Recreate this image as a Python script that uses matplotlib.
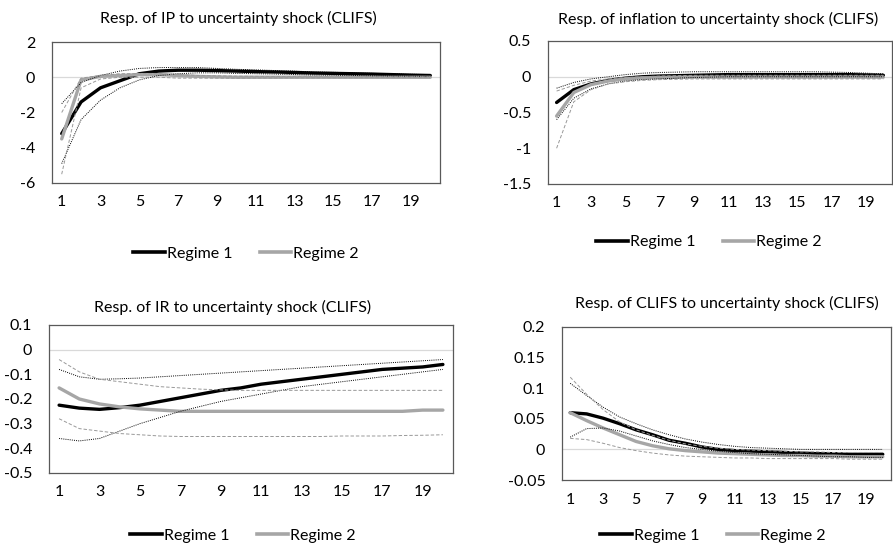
import matplotlib
matplotlib.use("Agg")
import matplotlib.pyplot as plt
from matplotlib.ticker import FuncFormatter
from matplotlib.lines import Line2D

plt.rcParams['font.family'] = ['Lato', 'DejaVu Sans']

# horizons
steps = list(range(1, 21))
xtick_labels = [str(i) for i in range(1, 20, 2)]
titles = ["Resp. of IP to uncertainty shock (CLIFS)",
          "Resp. of inflation to uncertainty shock (CLIFS)",
          "Resp. of IR to uncertainty shock (CLIFS)",
          "Resp. of CLIFS to uncertainty shock (CLIFS)"]
legend_labels = ["Regime 1", "Regime 2"]

# IP response
ip_r1 = [-3.2, -1.4, -0.6, -0.2, 0.2, 0.35, 0.4, 0.4, 0.38, 0.35, 0.32, 0.3, 0.27, 0.24, 0.22, 0.2, 0.18, 0.15, 0.12, 0.1]
ip_r2 = [-3.5, -0.15, 0.05, 0.1, 0.15, 0.15, 0.1, 0.05, 0.02, 0.0, 0.0, 0.0, 0.0, 0.0, 0.0, 0.0, 0.0, 0.0, 0.0, 0.0]
ip_r1_up = [-1.5, -0.3, 0.1, 0.35, 0.5, 0.55, 0.55, 0.55, 0.5, 0.45, 0.42, 0.38, 0.35, 0.3, 0.28, 0.25, 0.22, 0.2, 0.17, 0.15]
ip_r1_lo = [-4.9, -2.4, -1.3, -0.6, -0.15, 0.1, 0.2, 0.25, 0.25, 0.22, 0.2, 0.18, 0.15, 0.13, 0.12, 0.1, 0.08, 0.07, 0.06, 0.05]
ip_r2_up = [-2.0, -0.05, 0.1, 0.2, 0.2, 0.2, 0.15, 0.1, 0.08, 0.06, 0.05, 0.04, 0.03, 0.03, 0.02, 0.02, 0.02, 0.02, 0.02, 0.02]
ip_r2_lo = [-5.5, -0.6, -0.1, 0.0, 0.0, 0.0, -0.05, -0.05, -0.05, -0.05, -0.04, -0.04, -0.03, -0.03, -0.03, -0.03, -0.02, -0.02, -0.02, -0.02]

# inflation response
inf_r1 = [-0.36, -0.18, -0.1, -0.05, -0.02, 0.0, 0.01, 0.015, 0.02, 0.025, 0.03, 0.03, 0.03, 0.03, 0.03, 0.03, 0.03, 0.03, 0.025, 0.02]
inf_r2 = [-0.55, -0.22, -0.11, -0.06, -0.03, -0.015, -0.01, -0.008, -0.005, -0.005, -0.005, -0.005, -0.005, -0.005, -0.005, -0.005, -0.005, -0.005, -0.005, -0.005]
inf_r1_up = [-0.16, -0.08, -0.03, 0.0, 0.03, 0.05, 0.06, 0.065, 0.07, 0.07, 0.07, 0.07, 0.07, 0.07, 0.07, 0.07, 0.065, 0.06, 0.05, 0.04]
inf_r1_lo = [-0.6, -0.3, -0.17, -0.1, -0.06, -0.04, -0.03, -0.02, -0.01, -0.005, 0.0, 0.0, 0.0, 0.0, 0.0, 0.0, 0.0, 0.0, 0.0, 0.0]
inf_r2_up = [-0.2, -0.12, -0.06, -0.03, -0.01, 0.0, 0.01, 0.015, 0.02, 0.02, 0.02, 0.02, 0.02, 0.02, 0.02, 0.02, 0.02, 0.02, 0.02, 0.02]
inf_r2_lo = [-1.0, -0.35, -0.18, -0.1, -0.07, -0.05, -0.04, -0.035, -0.03, -0.03, -0.03, -0.03, -0.03, -0.03, -0.03, -0.03, -0.03, -0.03, -0.03, -0.03]

# interest rate response
ir_r1 = [-0.225, -0.237, -0.242, -0.235, -0.225, -0.21, -0.195, -0.18, -0.165, -0.155, -0.14, -0.13, -0.12, -0.11, -0.1, -0.09, -0.08, -0.075, -0.07, -0.06]
ir_r2 = [-0.155, -0.2, -0.22, -0.232, -0.24, -0.245, -0.25, -0.25, -0.25, -0.25, -0.25, -0.25, -0.25, -0.25, -0.25, -0.25, -0.25, -0.25, -0.245, -0.245]
ir_r1_up = [-0.08, -0.11, -0.12, -0.118, -0.115, -0.11, -0.105, -0.1, -0.095, -0.09, -0.085, -0.08, -0.075, -0.07, -0.065, -0.06, -0.055, -0.05, -0.045, -0.04]
ir_r1_lo = [-0.36, -0.37, -0.36, -0.33, -0.3, -0.275, -0.25, -0.23, -0.21, -0.195, -0.18, -0.165, -0.15, -0.14, -0.13, -0.12, -0.11, -0.1, -0.09, -0.08]
ir_r2_up = [-0.04, -0.09, -0.12, -0.13, -0.14, -0.15, -0.155, -0.16, -0.163, -0.165, -0.165, -0.165, -0.165, -0.165, -0.165, -0.165, -0.165, -0.165, -0.165, -0.165]
ir_r2_lo = [-0.28, -0.32, -0.33, -0.34, -0.345, -0.35, -0.352, -0.352, -0.352, -0.352, -0.352, -0.352, -0.352, -0.352, -0.35, -0.35, -0.35, -0.348, -0.347, -0.345]

# CLIFS response
cl_r1 = [0.06, 0.058, 0.051, 0.042, 0.032, 0.024, 0.015, 0.01, 0.004, 0.0, -0.002, -0.003, -0.004, -0.005, -0.006, -0.007, -0.007, -0.008, -0.008, -0.008]
cl_r2 = [0.06, 0.047, 0.035, 0.024, 0.013, 0.006, 0.001, -0.002, -0.004, -0.006, -0.007, -0.008, -0.009, -0.01, -0.01, -0.011, -0.011, -0.012, -0.012, -0.012]
cl_r1_up = [0.108, 0.088, 0.069, 0.053, 0.042, 0.032, 0.024, 0.017, 0.012, 0.008, 0.005, 0.003, 0.002, 0.001, 0.0, 0.0, 0.0, 0.0, 0.0, 0.0]
cl_r1_lo = [0.02, 0.034, 0.035, 0.03, 0.022, 0.014, 0.008, 0.003, 0.0, -0.003, -0.005, -0.007, -0.008, -0.009, -0.01, -0.011, -0.012, -0.012, -0.013, -0.013]
cl_r2_up = [0.118, 0.09, 0.065, 0.045, 0.032, 0.023, 0.015, 0.009, 0.005, 0.002, 0.0, -0.001, -0.002, -0.003, -0.004, -0.004, -0.005, -0.005, -0.005, -0.005]
cl_r2_lo = [0.018, 0.016, 0.01, 0.003, -0.002, -0.006, -0.009, -0.011, -0.012, -0.013, -0.014, -0.014, -0.015, -0.015, -0.015, -0.015, -0.015, -0.016, -0.016, -0.016]

W, H = 893, 547
FS = 11.5
fig = plt.figure(figsize=(W / 100, H / 100), dpi=100)

def px_rect(l, r, t, b):
    return [l / W, 1 - b / H, (r - l) / W, (b - t) / H]

def fmt(v, pos):
    s = "%g" % round(v, 6)
    return "0" if s in ("-0", "0") else s

panels = [
    # data, y range, y step, box (l, r, t, b), title xy, legend xy
    ((ip_r1, ip_r2, ip_r1_up, ip_r1_lo, ip_r2_up, ip_r2_lo), (-6, 2), 2,
     (52, 440, 42, 183), (238, 18), (246, 254)),
    ((inf_r1, inf_r2, inf_r1_up, inf_r1_lo, inf_r2_up, inf_r2_lo), (-1.5, 0.5), 0.5,
     (548, 892, 41, 184), (718, 19), (709, 242)),
    ((ir_r1, ir_r2, ir_r1_up, ir_r1_lo, ir_r2_up, ir_r2_lo), (-0.5, 0.1), 0.1,
     (49, 453, 325, 473), (233, 307), (243, 536)),
    ((cl_r1, cl_r2, cl_r1_up, cl_r1_lo, cl_r2_up, cl_r2_lo), (-0.05, 0.2), 0.05,
     (562, 891, 327, 480), (727, 303), (713, 536)),
]

for i, (data, yr, ystep, box, tpos, lpos) in enumerate(panels):
    r1, r2, r1_up, r1_lo, r2_up, r2_lo = data
    ax = fig.add_axes(px_rect(*box))
    ax.axhline(0, color='#d9d9d9', lw=0.9, zorder=0)
    ax.plot(steps, r1, color='black', lw=2.4, solid_capstyle='round', zorder=2)
    ax.plot(steps, r2, color='#a6a6a6', lw=2.4, solid_capstyle='round', zorder=2)
    ax.plot(steps, r1_up, color='black', lw=0.7, ls=(0, (1, 1.2)), zorder=3)
    ax.plot(steps, r1_lo, color='black', lw=0.7, ls=(0, (1, 1.2)), zorder=3)
    ax.plot(steps, r2_up, color='#999999', lw=0.7, ls=(0, (3.5, 2)), zorder=3)
    ax.plot(steps, r2_lo, color='#999999', lw=0.7, ls=(0, (3.5, 2)), zorder=3)

    ax.set_xlim(0.5, 20.5)
    ax.set_ylim(*yr)
    nt = int(round((yr[1] - yr[0]) / ystep))
    ax.set_yticks([yr[0] + k * ystep for k in range(nt + 1)])
    ax.yaxis.set_major_formatter(FuncFormatter(fmt))
    ax.set_xticks(range(1, 20, 2))
    ax.set_xticklabels(xtick_labels)
    ax.tick_params(length=0, labelsize=FS, colors='black')
    ax.tick_params(axis='y', pad=12)
    ax.tick_params(axis='x', pad=9)
    for sp in ax.spines.values():
        sp.set_color('#595959')
        sp.set_linewidth(0.9)

    fig.text(tpos[0] / W, 1 - tpos[1] / H, titles[i], ha='center', va='center', fontsize=FS)

    handles = [Line2D([], [], color='black', lw=2.6),
               Line2D([], [], color='#a6a6a6', lw=2.6)]
    fig.legend(handles, legend_labels, loc='center', ncol=2,
               bbox_to_anchor=(lpos[0] / W, 1 - lpos[1] / H),
               frameon=False, fontsize=FS, handlelength=2.0,
               handletextpad=0.1, columnspacing=1.7)

fig.savefig("out.png", dpi=100)
